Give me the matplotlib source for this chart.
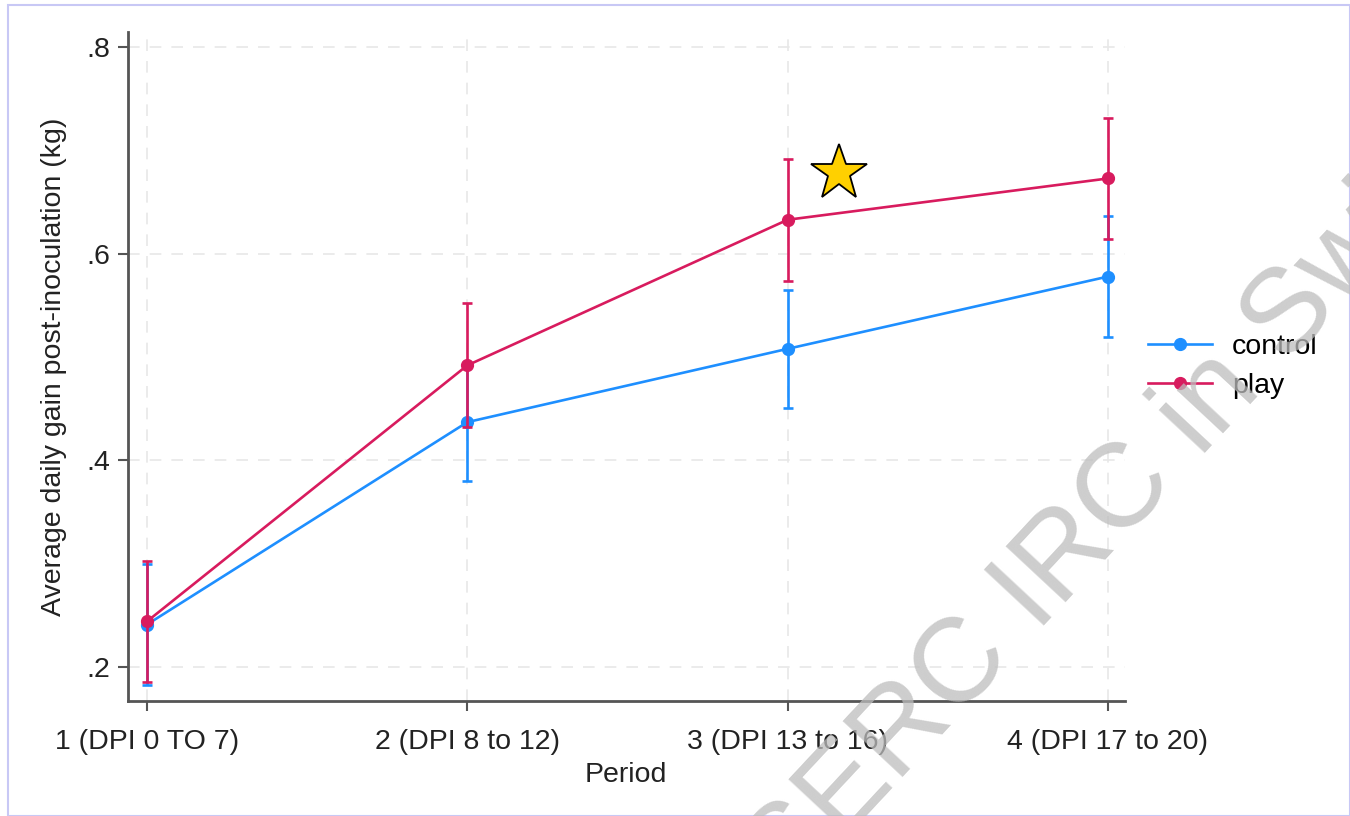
import matplotlib
matplotlib.use("Agg")
import matplotlib.pyplot as plt
from matplotlib.patches import Rectangle
from matplotlib.lines import Line2D

periods = [1, 2, 3, 4]
period_labels = ["1 (DPI 0 TO 7)", "2 (DPI 8 to 12)", "3 (DPI 13 to 16)", "4 (DPI 17 to 20)"]
control_mean = [0.241, 0.437, 0.508, 0.578]
control_err = [0.059, 0.057, 0.057, 0.059]
play_mean = [0.244, 0.492, 0.633, 0.673]
play_err = [0.059, 0.060, 0.059, 0.059]
yticks = [0.2, 0.4, 0.6, 0.8]
ytick_labels = [".2", ".4", ".6", ".8"]
star_pos = (3.16, 0.678)

plt.rcParams['font.family'] = ['Liberation Sans', 'DejaVu Sans']

fig = plt.figure(figsize=(13.5, 8.16), dpi=100)
fig.patches.append(Rectangle((0.006, 0.0), 0.994, 0.994, transform=fig.transFigure,
                             fill=False, edgecolor='#c8c8f5', linewidth=1.5))
ax = fig.add_axes([0.0948, 0.141, 0.7385, 0.820])

blue = '#1e8fff'
red = '#d81b5e'
fs = 20.5

ax.errorbar(periods, control_mean, yerr=control_err, color=blue, marker='o', markersize=8.5,
            linewidth=1.9, elinewidth=1.9, capsize=3.5, capthick=1.9, zorder=3)
ax.errorbar(periods, play_mean, yerr=play_err, color=red, marker='o', markersize=8.5,
            linewidth=1.9, elinewidth=1.9, capsize=3.5, capthick=1.9, zorder=4)

ax.plot([star_pos[0]], [star_pos[1]], marker='*', markersize=42, markerfacecolor='#ffd000',
        markeredgecolor='black', markeredgewidth=1.3, linestyle='none', zorder=5)

ax.set_xlim(0.9407, 4.053)
ax.set_ylim(0.167, 0.815)
ax.set_xticks(periods)
ax.set_xticklabels(period_labels, fontsize=fs, color='#222222')
ax.set_yticks(yticks)
ax.set_yticklabels(ytick_labels, fontsize=fs, color='#222222')
ax.tick_params(axis='both', length=7.5, width=1.5, color='#555555', direction='out')
ax.tick_params(axis='x', pad=12.5)
ax.tick_params(axis='y', pad=5)

ax.grid(True, linestyle=(0, (7, 6)), color='#e8e8e8', linewidth=1.2)
ax.set_axisbelow(True)
for s in ['top', 'right']:
    ax.spines[s].set_visible(False)
for s in ['left', 'bottom']:
    ax.spines[s].set_color('#555555')
    ax.spines[s].set_linewidth(2)

ax.set_xlabel('Period', fontsize=fs, color='#222222')
ax.xaxis.set_label_coords(0.4995, -0.091)
ax.set_ylabel('Average daily gain post-inoculation (kg)', fontsize=fs, color='#222222')
ax.yaxis.set_label_coords(-0.061, 0.50)

handles = [Line2D([], [], color=blue, marker='o', markersize=8.5, linewidth=1.9),
           Line2D([], [], color=red, marker='o', markersize=8.5, linewidth=1.9)]
fig.legend(handles=handles, labels=['control', 'play'],
           loc='center left', bbox_to_anchor=(0.8504, 0.5509), frameon=False,
           fontsize=fs, handlelength=2.25, handletextpad=0.7, labelspacing=0.48,
           borderpad=0, borderaxespad=0)

fig.text(0.812, 0.356, 'NSERC IRC in Swine', fontsize=86, color='#bdbdbd', alpha=0.75,
         rotation=47, ha='center', va='center', zorder=10)

fig.savefig('out.png', dpi=100)
